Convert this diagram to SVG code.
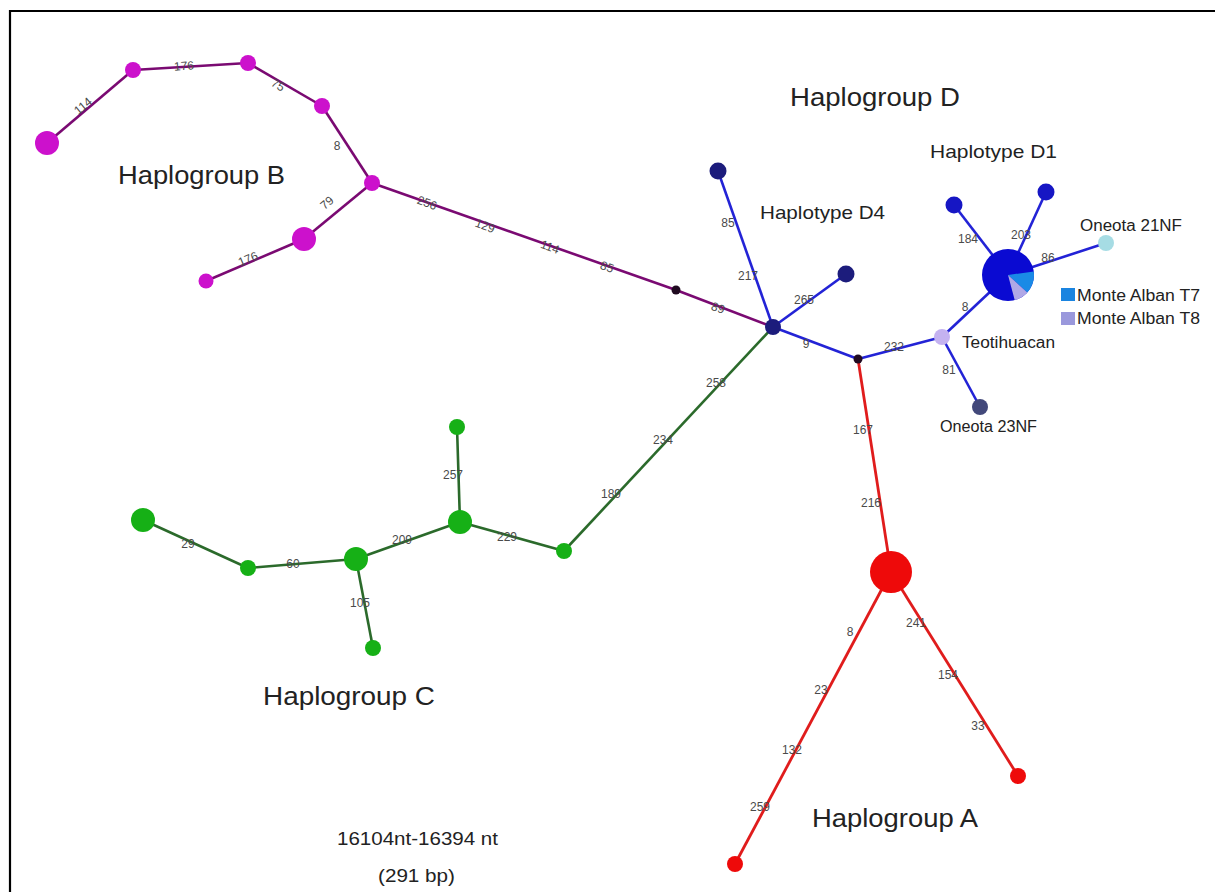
<svg xmlns="http://www.w3.org/2000/svg" width="1215" height="892" viewBox="0 0 1215 892">
<style>
text{font-family:"Liberation Sans",Arial,sans-serif;fill:#222}
.lbl{font-size:12px;fill:#4a4a4a;text-anchor:middle;dominant-baseline:central}
.big{font-size:26px}
.mid{font-size:19px}
.sm{font-size:16px}
.eB{stroke:#7a0a72;stroke-width:2.6;fill:none}
.eD{stroke:#2323d6;stroke-width:2.6;fill:none}
.eC{stroke:#2b6a2b;stroke-width:2.6;fill:none}
.eA{stroke:#e01c1c;stroke-width:2.8;fill:none}
.nB{fill:#cc11cc}
.nC{fill:#16b016}
.nA{fill:#ee0a0a}
.nD{fill:#1616c4}
.nNavy{fill:#1c1c7c}
.nJ{fill:#200a20}
</style>
<rect x="0" y="0" width="1215" height="892" fill="#fff"/>
<path d="M10 892 V11 H1215" stroke="#000" stroke-width="2.2" fill="none"/>

<g id="connectors">
  <line class="eB" x1="47" y1="143" x2="133" y2="70"/>
  <line class="eB" x1="133" y1="70" x2="248" y2="63"/>
  <line class="eB" x1="248" y1="63" x2="322" y2="106"/>
  <line class="eB" x1="322" y1="106" x2="372" y2="183"/>
  <line class="eB" x1="372" y1="183" x2="304" y2="239"/>
  <line class="eB" x1="304" y1="239" x2="206" y2="281"/>
  <line class="eB" x1="372" y1="183" x2="676" y2="290"/>
  <line class="eB" x1="676" y1="290" x2="773" y2="327"/>

  <line class="eD" x1="773" y1="327" x2="718" y2="171"/>
  <line class="eD" x1="773" y1="327" x2="846" y2="274"/>
  <line class="eD" x1="773" y1="327" x2="858" y2="359"/>
  <line class="eD" x1="858" y1="359" x2="942" y2="337"/>
  <line class="eD" x1="942" y1="337" x2="1008" y2="275"/>
  <line class="eD" x1="942" y1="337" x2="980" y2="407"/>
  <line class="eD" x1="1008" y1="275" x2="954" y2="205"/>
  <line class="eD" x1="1008" y1="275" x2="1046" y2="192"/>
  <line class="eD" x1="1008" y1="275" x2="1106" y2="243"/>

  <line class="eC" x1="143" y1="520" x2="248" y2="568"/>
  <line class="eC" x1="248" y1="568" x2="356" y2="559"/>
  <line class="eC" x1="356" y1="559" x2="460" y2="522"/>
  <line class="eC" x1="356" y1="559" x2="373" y2="648"/>
  <line class="eC" x1="460" y1="522" x2="457" y2="427"/>
  <line class="eC" x1="460" y1="522" x2="564" y2="551"/>
  <line class="eC" x1="564" y1="551" x2="773" y2="327"/>

  <line class="eA" x1="858" y1="359" x2="891" y2="572"/>
  <line class="eA" x1="891" y1="572" x2="735" y2="864"/>
  <line class="eA" x1="891" y1="572" x2="1018" y2="776"/>

  <g id="edge-labels">
    <text class="lbl" transform="translate(83,106) rotate(-40)">114</text>
    <text class="lbl" transform="translate(184,66) rotate(-4)">176</text>
    <text class="lbl" transform="translate(278,85) rotate(30)">75</text>
    <text class="lbl" x="337" y="146">8</text>
    <text class="lbl" transform="translate(327,203) rotate(-40)">79</text>
    <text class="lbl" transform="translate(248,259) rotate(-23)">176</text>
    <text class="lbl" transform="translate(427,203) rotate(20)">256</text>
    <text class="lbl" transform="translate(485,226) rotate(20)">129</text>
    <text class="lbl" transform="translate(550,247) rotate(20)">114</text>
    <text class="lbl" transform="translate(607,267) rotate(20)">85</text>
    <text class="lbl" transform="translate(718,308) rotate(20)">89</text>

    <text class="lbl" x="728" y="223">85</text>
    <text class="lbl" x="748" y="276">217</text>
    <text class="lbl" x="804" y="300">265</text>
    <text class="lbl" x="806" y="344">9</text>
    <text class="lbl" x="894" y="347">232</text>
    <text class="lbl" x="968" y="239">184</text>
    <text class="lbl" x="1021" y="235">203</text>
    <text class="lbl" x="1048" y="258">86</text>
    <text class="lbl" x="965" y="307">8</text>
    <text class="lbl" x="949" y="370">81</text>

    <text class="lbl" x="188" y="544">29</text>
    <text class="lbl" x="293" y="564">60</text>
    <text class="lbl" x="402" y="540">209</text>
    <text class="lbl" x="507" y="537">229</text>
    <text class="lbl" x="453" y="475">257</text>
    <text class="lbl" x="360" y="603">105</text>
    <text class="lbl" x="611" y="494">189</text>
    <text class="lbl" x="663" y="440">234</text>
    <text class="lbl" x="716" y="383">258</text>

    <text class="lbl" x="863" y="430">167</text>
    <text class="lbl" x="871" y="503">216</text>
    <text class="lbl" x="850" y="632">8</text>
    <text class="lbl" x="916" y="623">241</text>
    <text class="lbl" x="821" y="690">23</text>
    <text class="lbl" x="792" y="750">132</text>
    <text class="lbl" x="760" y="807">259</text>
    <text class="lbl" x="948" y="675">154</text>
    <text class="lbl" x="978" y="726">33</text>
  </g>
</g>

<g id="hapB">
  <circle id="b1" class="nB" cx="47" cy="143" r="12"/>
  <circle id="b2" class="nB" cx="133" cy="70" r="8"/>
  <circle id="b3" class="nB" cx="248" cy="63" r="8"/>
  <circle id="b4" class="nB" cx="322" cy="106" r="8"/>
  <circle id="b5" class="nB" cx="372" cy="183" r="8"/>
  <circle id="b6" class="nB" cx="304" cy="239" r="12"/>
  <circle id="b7" class="nB" cx="206" cy="281" r="7.5"/>
  <text class="big" x="118" y="184" textLength="167" lengthAdjust="spacingAndGlyphs">Haplogroup B</text>
</g>

<g id="junctions">
  <circle id="j1" class="nJ" cx="676" cy="290" r="4.5"/>
  <circle id="j2" class="nJ" cx="858" cy="359" r="4.5"/>
</g>

<g id="hapD">
  <circle id="d4hub" class="nNavy" cx="773" cy="327" r="8"/>
  <circle id="d4top" class="nNavy" cx="718" cy="171" r="8.5"/>
  <circle id="d4right" class="nNavy" cx="846" cy="274" r="8.5"/>
  <circle id="teo" cx="942" cy="337" r="8" fill="#c4b2f0"/>
  <circle id="oneota23" cx="980" cy="407" r="8" fill="#42487a"/>
  <circle id="d1ul" class="nD" cx="954" cy="205" r="8.5"/>
  <circle id="d1ur" class="nD" cx="1046" cy="192" r="8.5"/>
  <circle id="oneota21" cx="1106" cy="243" r="8" fill="#a6dce4"/>
  <g id="d1pie">
    <circle cx="1008" cy="275" r="26" fill="#0a0ad2"/>
    <path d="M1008 275 L1033.7 271.4 A26 26 0 0 1 1027.3 292.4 Z" fill="#1a8ae6"/>
    <path d="M1008 275 L1027.3 292.4 A26 26 0 0 1 1014.7 300.1 Z" fill="#b0a8e6"/>
  </g>
  <text class="big" x="790" y="106" textLength="170" lengthAdjust="spacingAndGlyphs">Haplogroup D</text>
  <text class="mid" x="760" y="219" textLength="125" lengthAdjust="spacingAndGlyphs">Haplotype D4</text>
  <text class="mid" x="930" y="158" textLength="127" lengthAdjust="spacingAndGlyphs">Haplotype D1</text>
  <text class="sm" x="1080" y="231" textLength="102" lengthAdjust="spacingAndGlyphs">Oneota 21NF</text>
  <text class="sm" x="962" y="348" textLength="93" lengthAdjust="spacingAndGlyphs">Teotihuacan</text>
  <text class="sm" x="940" y="432" textLength="97" lengthAdjust="spacingAndGlyphs">Oneota 23NF</text>
</g>

<g id="legend">
  <rect x="1061" y="288" width="14" height="13" fill="#1a84e0"/>
  <text class="sm" x="1077" y="301" textLength="123" lengthAdjust="spacingAndGlyphs">Monte Alban T7</text>
  <rect x="1061" y="312" width="14" height="13" fill="#9a98dc"/>
  <text class="sm" x="1077" y="324" textLength="123" lengthAdjust="spacingAndGlyphs">Monte Alban T8</text>
</g>

<g id="hapC">
  <circle id="c1" class="nC" cx="143" cy="520" r="12"/>
  <circle id="c2" class="nC" cx="248" cy="568" r="8"/>
  <circle id="c3" class="nC" cx="356" cy="559" r="12"/>
  <circle id="c4" class="nC" cx="460" cy="522" r="12"/>
  <circle id="c5" class="nC" cx="457" cy="427" r="8"/>
  <circle id="c6" class="nC" cx="373" cy="648" r="8"/>
  <circle id="c7" class="nC" cx="564" cy="551" r="8"/>
  <text class="big" x="263" y="705" textLength="172" lengthAdjust="spacingAndGlyphs">Haplogroup C</text>
</g>

<g id="hapA">
  <circle id="a1" class="nA" cx="891" cy="572" r="21"/>
  <circle id="a2" class="nA" cx="735" cy="864" r="8"/>
  <circle id="a3" class="nA" cx="1018" cy="776" r="8"/>
  <text class="big" x="812" y="827" textLength="166" lengthAdjust="spacingAndGlyphs">Haplogroup A</text>
</g>

<g id="caption">
  <text x="337" y="845" style="font-size:19px" textLength="161" lengthAdjust="spacingAndGlyphs">16104nt-16394 nt</text>
  <text x="378" y="882" style="font-size:19px" textLength="77" lengthAdjust="spacingAndGlyphs">(291 bp)</text>
</g>
</svg>
